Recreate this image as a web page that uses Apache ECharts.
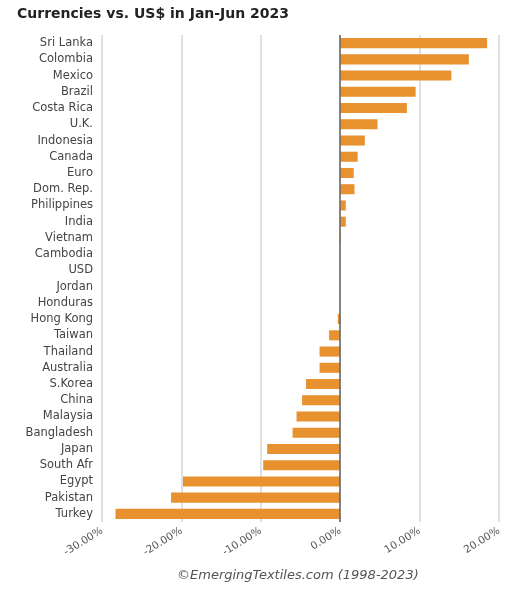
<!DOCTYPE html>
<html>
<head>
<meta charset="utf-8">
<script src="https://cdn.jsdelivr.net/npm/echarts@6/dist/echarts.min.js"></script>
<style>
  html, body { margin: 0; padding: 0; background: #fff; }
  #chart { width: 522px; height: 596px; }
</style>
</head>
<body>
<div id="chart"></div>
<script>
// currencies, top to bottom
var countries = ['Sri Lanka', 'Colombia', 'Mexico', 'Brazil', 'Costa Rica', 'U.K.', 'Indonesia',
  'Canada', 'Euro', 'Dom. Rep.', 'Philippines', 'India', 'Vietnam', 'Cambodia', 'USD', 'Jordan',
  'Honduras', 'Hong Kong', 'Taiwan', 'Thailand', 'Australia', 'S.Korea', 'China', 'Malaysia',
  'Bangladesh', 'Japan', 'South Afr', 'Egypt', 'Pakistan', 'Turkey'];
// change vs US$ (fraction)
var change = [0.185, 0.162, 0.140, 0.095, 0.084, 0.047, 0.031,
  0.022, 0.017, 0.018, 0.007, 0.007, 0.001, 0, 0, 0,
  0, -0.003, -0.014, -0.026, -0.026, -0.043, -0.048, -0.055,
  -0.060, -0.092, -0.097, -0.198, -0.213, -0.283];
var xTicks = [-0.3, -0.2, -0.1, 0, 0.1, 0.2];

var myChart = echarts.init(document.getElementById('chart'));
var option = {
  animation: false,
  title: {
    text: 'Currencies vs. US$ in Jan-Jun 2023',
    left: 12,
    top: 2,
    textStyle: { fontFamily: 'DejaVu Sans', fontSize: 14, fontWeight: 'bold', color: '#222' }
  },
  graphic: [{
    type: 'text',
    left: 177,
    top: 569,
    style: {
      text: '\u00a9EmergingTextiles.com (1998-2023)',
      font: 'italic 13px "DejaVu Sans"',
      fill: '#555'
    }
  }],
  grid: { left: 102, right: 23, top: 35, bottom: 74 },
  xAxis: {
    type: 'value',
    min: xTicks[0],
    max: xTicks[xTicks.length - 1],
    interval: 0.1,
    axisLine: { show: false },
    axisTick: { show: false },
    splitLine: { lineStyle: { color: '#d6d6d6', width: 1.5 } },
    axisLabel: {
      rotate: 32,
      margin: 8,
      color: '#555',
      fontFamily: 'DejaVu Sans',
      fontSize: 10.5,
      formatter: function (v) { return (v * 100).toFixed(2) + '%'; }
    }
  },
  yAxis: {
    type: 'category',
    data: countries,
    inverse: true,
    axisLine: { show: false },
    axisTick: { show: false },
    axisLabel: { color: '#444', fontFamily: 'DejaVu Sans', fontSize: 11.5, margin: 9 }
  },
  series: [{
    type: 'bar',
    data: change,
    barWidth: '62%',
    itemStyle: { color: '#e8912f' },
    markLine: {
      silent: true,
      symbol: 'none',
      label: { show: false },
      lineStyle: { color: '#666', type: 'solid', width: 1.5 },
      data: [{ xAxis: 0 }]
    }
  }]
};
myChart.setOption(option);
</script>
</body>
</html>
